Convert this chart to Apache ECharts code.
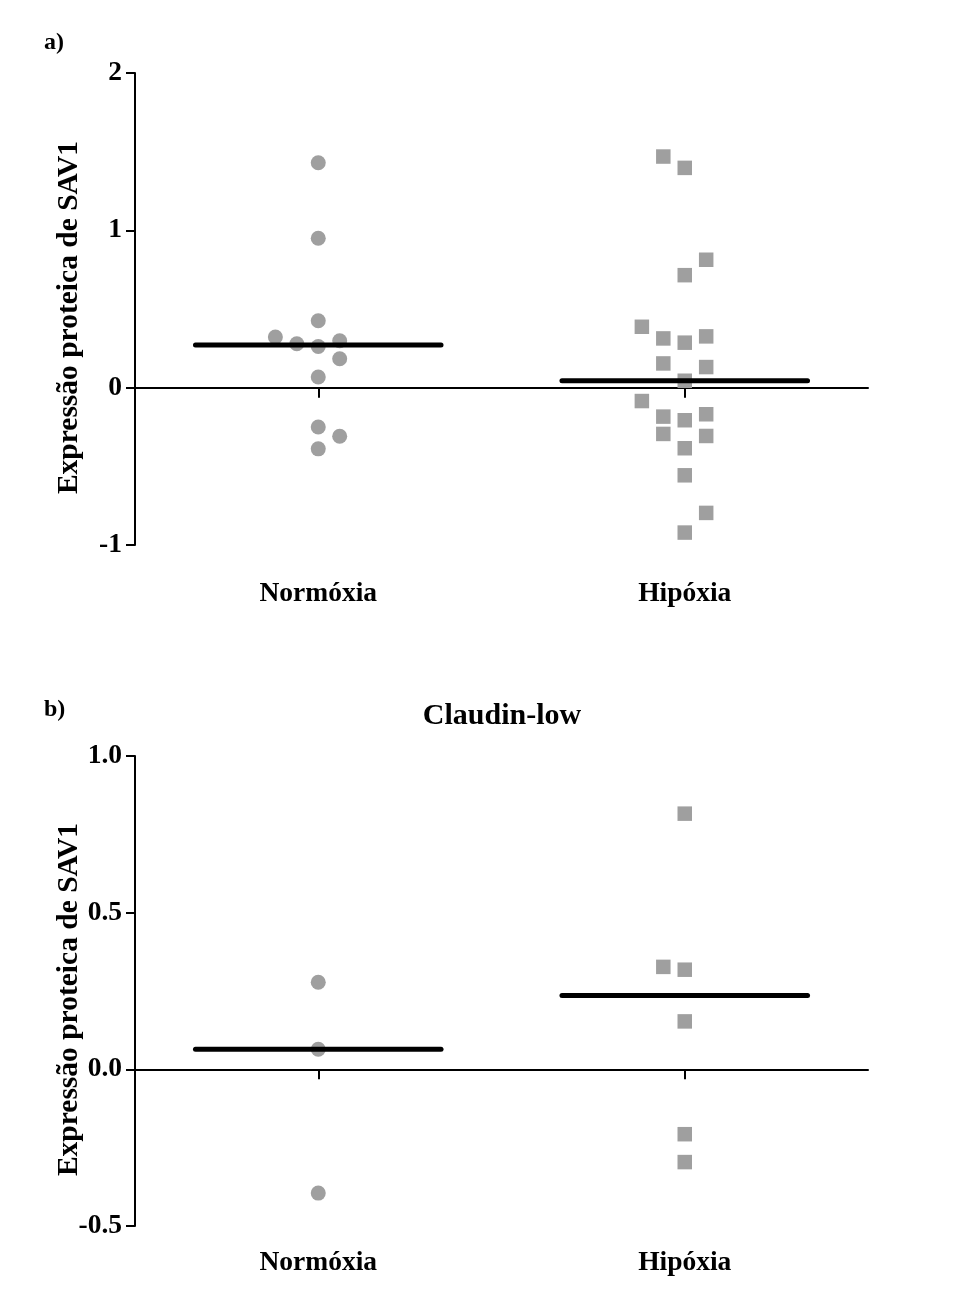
<!DOCTYPE html>
<html>
<head>
<meta charset="utf-8">
<script src="https://cdn.jsdelivr.net/npm/echarts@6/dist/echarts.min.js"></script>
<style>
  html, body { margin: 0; padding: 0; background: #ffffff; }
  #chart { width: 957px; height: 1308px; }
</style>
</head>
<body>
<div id="chart"></div>
<script>
// Groups shown on both panels
const categories = ['Normóxia', 'Hipóxia'];

// Panel a) – all samples
const normoxiaA = [1.43, 0.95, 0.425, 0.322, 0.279, 0.262, 0.298, 0.184, 0.068, -0.25, -0.309, -0.389];
const normoxiaAcol = [0, 0, 0, -2, -1, 0, 1, 1, 0, 0, 1, 0];
const hipoxiaA = [1.469, 1.397, 0.813, 0.715, 0.387, 0.313, 0.286, 0.326, 0.154, 0.131, 0.044,
                  -0.085, -0.184, -0.207, -0.169, -0.294, -0.307, -0.385, -0.557, -0.796, -0.921];
const hipoxiaAcol = [-1, 0, 1, 0, -2, -1, 0, 1, -1, 1, 0, -2, -1, 0, 1, -1, 1, 0, 0, 1, 0];

// Panel b) – Claudin-low subtype
const normoxiaB = [0.278, 0.064, -0.395];
const normoxiaBcol = [0, 0, 0];
const hipoxiaB = [0.816, 0.327, 0.318, 0.153, -0.207, -0.296];
const hipoxiaBcol = [0, -1, 0, 0, 0, 0];

// Axis ranges and tick steps
const yRangeA = [-1, 2, 1];
const yRangeB = [-0.5, 1.0, 0.5];

const yTitle = 'Expressão proteica de SAV1';
const panelTitleB = 'Claudin-low';

// group centres on the value x axis (0..4) and swarm column spacing
const groupX = [1, 3];
const colStep = 0.117;
const medianHalfWidth = 0.67;

const FONT = '"Liberation Serif", "Times New Roman", serif';
const dotColor = '#9f9f9f';

function median(arr) {
  const s = arr.slice().sort((a, b) => a - b);
  const m = Math.floor(s.length / 2);
  return s.length % 2 ? s[m] : (s[m - 1] + s[m]) / 2;
}

function points(values, cols, g) {
  return values.map((v, i) => [groupX[g] + cols[i] * colStep, v]);
}

function medianLine(values, g, idx) {
  const m = median(values);
  return {
    type: 'line', xAxisIndex: idx * 2, yAxisIndex: idx,
    data: [[groupX[g] - medianHalfWidth, m], [groupX[g] + medianHalfWidth, m]],
    symbol: 'none', silent: true, z: 5,
    lineStyle: { color: '#000', width: 5, cap: 'round' }
  };
}

function scatter(values, cols, g, idx, symbol) {
  return {
    type: 'scatter', xAxisIndex: idx * 2, yAxisIndex: idx,
    data: points(values, cols, g),
    symbol: symbol, symbolSize: symbol === 'circle' ? 15 : 14.5,
    itemStyle: { color: dotColor, opacity: 1 }, z: 3
  };
}

const grids = [
  { left: 135, right: 89, top: 73, height: 472 },
  { left: 135, right: 89, top: 756, height: 470 }
];

function xAxesFor(gi, labelMargin) {
  return [
    {
      type: 'value', gridIndex: gi, min: 0, max: 4,
      axisLine: { onZero: true, lineStyle: { color: '#000', width: 2 } },
      axisTick: { show: true, customValues: groupX, length: 10, inside: false,
                  lineStyle: { color: '#000', width: 2 } },
      axisLabel: { show: false }, splitLine: { show: false }
    },
    {
      type: 'category', gridIndex: gi, data: categories, position: 'bottom',
      axisLine: { show: false }, axisTick: { show: false }, splitLine: { show: false },
      axisLabel: { margin: labelMargin, color: '#000', fontFamily: FONT, fontWeight: 'bold', fontSize: 27.5 }
    }
  ];
}

function yAxisFor(gi, range, fmt) {
  return {
    type: 'value', gridIndex: gi, min: range[0], max: range[1], interval: range[2],
    name: yTitle, nameLocation: 'middle', nameGap: 51, nameMoveOverlap: false,
    nameTextStyle: { color: '#000', fontFamily: FONT, fontWeight: 'bold', fontSize: 29.5,
                     padding: [0, 17, 0, 0] },
    axisLine: { show: true, lineStyle: { color: '#000', width: 2 } },
    axisTick: { show: true, length: 9, lineStyle: { color: '#000', width: 2 } },
    axisLabel: { margin: 13, color: '#000', fontFamily: FONT, fontWeight: 'bold', fontSize: 27.5, formatter: fmt },
    splitLine: { show: false }
  };
}

const chart = echarts.init(document.getElementById('chart'), null, { renderer: 'canvas' });

chart.setOption({
  backgroundColor: '#ffffff',
  animation: false,
  title: {
    text: panelTitleB, left: 497, top: 696, textAlign: 'center',
    textStyle: { color: '#000', fontFamily: FONT, fontWeight: 'bold', fontSize: 30 }
  },
  graphic: [
    { type: 'text', left: 44, top: 31, style: { text: 'a)', fill: '#000', font: 'bold 24px ' + FONT } },
    { type: 'text', left: 44, top: 698, style: { text: 'b)', fill: '#000', font: 'bold 24px ' + FONT } }
  ],
  grid: grids,
  xAxis: [].concat(xAxesFor(0, 35), xAxesFor(1, 23)),
  yAxis: [
    yAxisFor(0, yRangeA, v => String(v)),
    yAxisFor(1, yRangeB, v => v.toFixed(1))
  ],
  series: [
    scatter(normoxiaA, normoxiaAcol, 0, 0, 'circle'),
    scatter(hipoxiaA, hipoxiaAcol, 1, 0, 'rect'),
    medianLine(normoxiaA, 0, 0),
    medianLine(hipoxiaA, 1, 0),
    scatter(normoxiaB, normoxiaBcol, 0, 1, 'circle'),
    scatter(hipoxiaB, hipoxiaBcol, 1, 1, 'rect'),
    medianLine(normoxiaB, 0, 1),
    medianLine(hipoxiaB, 1, 1)
  ]
});
</script>
</body>
</html>
